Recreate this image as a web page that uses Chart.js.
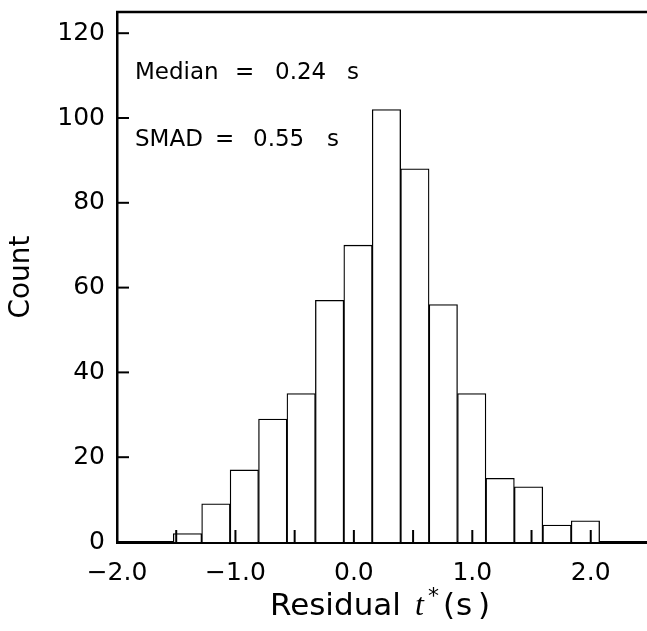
<!DOCTYPE html>
<html>
<head>
    <title>Residual t* histogram</title>
    <script src="https://cdn.jsdelivr.net/npm/chart.js"></script>
    <style>
        html, body { margin: 0; padding: 0; background: #fff; overflow: hidden; }
    </style>
</head>
<body>
    <div style="width: 647px; height: 631px;">
        <canvas id="hist" width="647" height="631"></canvas>
    </div>

    <script>
        // Data: bin centres (s) and counts
        const binCenters = [-1.405, -1.165, -0.925, -0.685, -0.445, -0.205, 0.035, 0.275, 0.515, 0.755, 0.995, 1.235, 1.475, 1.715, 1.955];
        const counts = [2, 9, 17, 29, 35, 57, 70, 102, 88, 56, 35, 15, 13, 4, 5];
        // tick marks (every 0.5) and the ones that get a label
        const xTicks = [-2.0, -1.5, -1.0, -0.5, 0.0, 0.5, 1.0, 1.5, 2.0];
        const xLabelled = [-2.0, -1.0, 0.0, 1.0, 2.0];
        const yTicks = [0, 20, 40, 60, 80, 100, 120];
        const notes = [
            ['Median', '=', '0.24', 's'],
            ['SMAD', '=', '0.55', 's']
        ];

        const FONT = '"DejaVu Sans", sans-serif';

        // inward tick marks, top frame line, annotations and axis titles
        const decor = {
            id: 'decor',
            afterDatasetsDraw(chart) {
                const ctx = chart.ctx;
                const a = chart.chartArea;
                const xs = chart.scales.x, ys = chart.scales.y;
                ctx.save();
                ctx.strokeStyle = '#000';
                ctx.lineWidth = 2;
                xTicks.forEach(v => {
                    const px = xs.getPixelForValue(v);
                    ctx.beginPath();
                    ctx.moveTo(px, a.bottom);
                    ctx.lineTo(px, a.bottom - 12);
                    ctx.stroke();
                });
                yTicks.forEach(v => {
                    const py = ys.getPixelForValue(v);
                    ctx.beginPath();
                    ctx.moveTo(a.left, py);
                    ctx.lineTo(a.left + 12, py);
                    ctx.stroke();
                });
                // top frame
                ctx.lineWidth = 2.5;
                ctx.beginPath();
                ctx.moveTo(a.left - 1, a.top);
                ctx.lineTo(a.right, a.top);
                ctx.stroke();

                // Median / SMAD text
                ctx.fillStyle = '#000';
                ctx.font = '23px ' + FONT;
                ctx.textBaseline = 'alphabetic';
                ctx.textAlign = 'left';
                const cols = [[18, 118, 158, 230], [18, 98, 136, 210]];
                const rows = [67, 134];
                notes.forEach((parts, i) => {
                    parts.forEach((p, j) => {
                        ctx.fillText(p, a.left + cols[i][j], a.top + rows[i]);
                    });
                });

                // y title
                ctx.save();
                ctx.translate(22, (a.top + a.bottom) / 2);
                ctx.rotate(-Math.PI / 2);
                ctx.textAlign = 'center';
                ctx.textBaseline = 'middle';
                ctx.font = '28px ' + FONT;
                ctx.fillText('Count', 0, 0);
                ctx.restore();

                // x title: Residual t* (s)
                const base = a.bottom + 73;
                const x0 = 270;
                ctx.font = '31px ' + FONT;
                ctx.fillText('Residual', x0, base);
                ctx.font = 'italic 32px "Liberation Serif", serif';
                ctx.fillText('t', x0 + 145, base);
                ctx.font = '22px ' + FONT;
                ctx.fillText('*', x0 + 158, base - 12);
                ctx.font = '31px ' + FONT;
                ctx.fillText('(', x0 + 173, base);
                ctx.fillText('s', x0 + 186, base);
                ctx.fillText(')', x0 + 208, base);
                ctx.restore();
            }
        };

        const ctxHist = document.getElementById('hist').getContext('2d');
        new Chart(ctxHist, {
            type: 'bar',
            data: {
                datasets: [{
                    data: binCenters.map((c, i) => ({ x: c, y: counts[i] })),
                    backgroundColor: '#fff',
                    borderColor: '#000',
                    borderWidth: 1.3,
                    categoryPercentage: 1.0,
                    barPercentage: 1.0
                }]
            },
            options: {
                responsive: false,
                animation: false,
                layout: { padding: { top: 12, right: 0, left: 0, bottom: 0 } },
                plugins: { legend: { display: false }, tooltip: { enabled: false } },
                scales: {
                    x: {
                        type: 'linear',
                        offset: false,
                        min: -2.0,
                        max: 2.475,
                        afterBuildTicks: s => { s.ticks = xTicks.map(v => ({ value: v })); },
                        afterFit: s => { s.height = 89; s.paddingLeft = 0; s.paddingRight = 0; },
                        grid: { display: false, drawTicks: false, offset: false },
                        border: { display: true, color: '#000', width: 3 },
                        ticks: {
                            autoSkip: false,
                            maxRotation: 0,
                            padding: 16,
                            color: '#000',
                            font: { family: FONT, size: 25 },
                            callback: v => xLabelled.includes(v) ? (v < 0 ? '\u2212' : '') + Math.abs(v).toFixed(1) : ''
                        }
                    },
                    y: {
                        min: 0,
                        max: 125,
                        afterBuildTicks: s => { s.ticks = yTicks.map(v => ({ value: v })); },
                        afterFit: s => { s.width = 117; s.paddingTop = 0; s.paddingBottom = 0; },
                        grid: { display: false, drawTicks: false },
                        border: { display: true, color: '#000', width: 2.5 },
                        ticks: {
                            padding: 12,
                            color: '#000',
                            font: { family: FONT, size: 25 }
                        }
                    }
                }
            },
            plugins: [decor]
        });
    </script>
</body>
</html>
